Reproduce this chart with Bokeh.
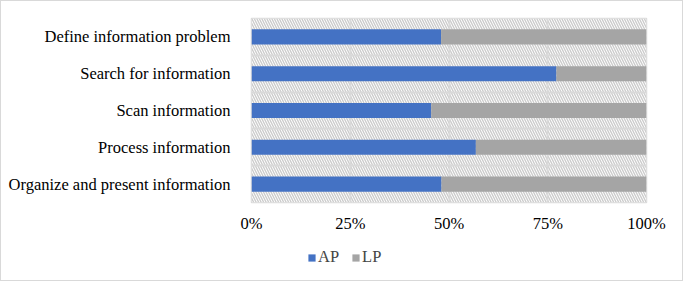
from bokeh.plotting import figure
from bokeh.models import (ColumnDataSource, FixedTicker, NumeralTickFormatter,
                          BoxAnnotation, Legend, Range1d)
from bokeh.layouts import column
from bokeh.embed import file_html
from bokeh.resources import INLINE

categories = ["Define information problem", "Search for information", "Scan information",
              "Process information", "Organize and present information"]
ap_share = [0.48, 0.772, 0.455, 0.568, 0.481]
lp_share = [1 - v for v in ap_share]
x_ticks = [0, 0.25, 0.5, 0.75, 1.0]
series = ["AP", "LP"]
colors = ["#4472C4", "#A5A5A5"]

n = len(categories)
ypos = [n - i - 0.5 for i in range(n)]
source = ColumnDataSource(dict(y=ypos, AP=ap_share, LP=lp_share, cat=categories))

FONT = "Liberation Serif"
BORDER = "1px solid #d9d9d9"

p = figure(width=683, height=240, output_backend="svg", toolbar_location=None,
           x_range=Range1d(0, 1), y_range=Range1d(0, n),
           min_border_left=250, min_border_right=38, min_border_top=17, min_border_bottom=39)
p.styles = {"border-top": BORDER, "border-left": BORDER, "border-right": BORDER}
p.background_fill_color = "white"
p.border_fill_color = "white"
p.outline_line_color = "#d9d9d9"
p.outline_line_width = 1.5

hatch = BoxAnnotation(fill_color="white", fill_alpha=1, line_alpha=0,
                      hatch_pattern="\\", hatch_color="#cccccc", hatch_scale=5,
                      hatch_weight=1.4, level="image")
p.add_layout(hatch)

renderers = p.hbar_stack(series, y="y", height=0.41, source=source, color=colors,
                         line_alpha=0)

# grids
p.xgrid.ticker = FixedTicker(ticks=x_ticks)
p.xgrid.grid_line_color = "#d9d9d9"
p.xgrid.grid_line_width = 1.8
p.ygrid.ticker = FixedTicker(ticks=list(range(n + 1)))
p.ygrid.grid_line_color = "#d9d9d9"
p.ygrid.grid_line_width = 1.8

# axes
p.xaxis.ticker = FixedTicker(ticks=x_ticks)
p.xaxis.formatter = NumeralTickFormatter(format="0%")
p.yaxis.ticker = FixedTicker(ticks=ypos)
p.yaxis.major_label_overrides = {y: c for y, c in zip(ypos, categories)}
for ax in (p.xaxis[0], p.yaxis[0]):
    ax.axis_line_color = None
    ax.major_tick_line_color = None
    ax.minor_tick_line_color = None
    ax.major_tick_out = 0
    ax.major_tick_in = 0
    ax.minor_tick_out = 0
    ax.minor_tick_in = 0
    ax.major_label_text_font = FONT
    ax.major_label_text_color = "#000000"
p.xaxis.major_label_text_font_size = "16.5px"
p.yaxis.major_label_text_font_size = "16.5px"
p.xaxis.major_label_standoff = 11
p.yaxis.major_label_standoff = 21

# legend strip below the chart
lg = figure(width=683, height=41, output_backend="svg", toolbar_location=None,
            x_range=Range1d(0, 1), y_range=Range1d(10, 11),
            x_axis_location=None, y_axis_location=None,
            min_border_left=0, min_border_right=0, min_border_top=0, min_border_bottom=0)
lg.styles = {"border-bottom": BORDER, "border-left": BORDER, "border-right": BORDER}
lg.grid.visible = False
lg.outline_line_color = None
lg.background_fill_color = "white"
lg.border_fill_color = "white"
lg_renderers = lg.hbar_stack(series, y="y", height=0.41, source=source, color=colors,
                             line_alpha=0)
legend = Legend(items=[(s, [r]) for s, r in zip(series, lg_renderers)],
                orientation="horizontal", location=(54, 12),
                label_text_font=FONT, label_text_font_size="16.5px",
                glyph_width=9, glyph_height=9, label_standoff=2, spacing=12,
                border_line_alpha=0, background_fill_alpha=0, padding=2, margin=0)
lg.add_layout(legend)

layout = column(p, lg, spacing=0)
open("out.html", "w").write(file_html(layout, INLINE))
